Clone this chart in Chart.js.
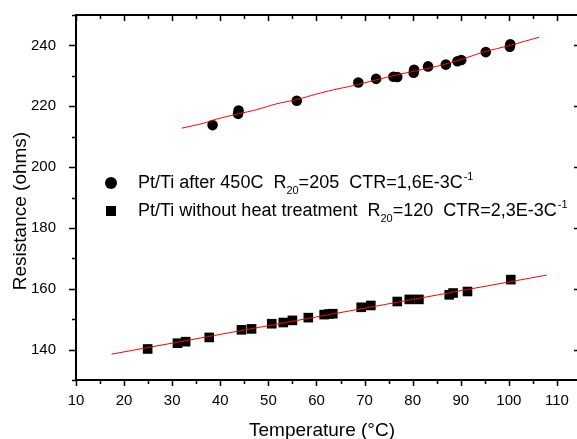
<!DOCTYPE html>
<html>
<head>
<meta charset="utf-8">
<script src="https://cdn.jsdelivr.net/npm/chart.js@4"></script>
<style>
  html, body { margin: 0; padding: 0; overflow: hidden; background: #fff; }
  #wrap { position: absolute; left: 0; top: 0; width: 590px; height: 439px; }
</style>
</head>
<body>
<div id="wrap"><canvas id="chart"></canvas></div>
<script>
// axis ticks
const xTicks = [10, 20, 30, 40, 50, 60, 70, 80, 90, 100, 110];
const xMinor = [15, 25, 35, 45, 55, 65, 75, 85, 95, 105, 115];
const yTicks = [140, 160, 180, 200, 220, 240];
const yMinor = [130, 150, 170, 190, 210, 230, 250];

// Pt/Ti without heat treatment (squares)
const squareT = [24.9, 31.1, 32.8, 37.7, 44.4, 46.5, 50.7, 53.1, 55.0, 58.3, 61.6, 62.6, 63.4, 69.3, 71.3, 76.8, 79.3, 81.3, 87.6, 88.4, 91.4, 100.4];
const squareR = [140.2, 142.1, 142.6, 144.0, 146.5, 146.8, 148.5, 148.9, 149.6, 150.5, 151.5, 151.7, 151.8, 153.9, 154.5, 155.8, 156.5, 156.5, 158.0, 158.6, 159.1, 163.0];

// Pt/Ti after 450C (circles)
const circleT = [38.4, 43.7, 43.8, 55.9, 68.7, 72.4, 76.0, 76.8, 80.2, 80.3, 83.2, 86.9, 89.3, 90.1, 95.2, 100.2, 100.3];
const circleR = [213.8, 217.5, 218.6, 221.8, 227.8, 229.0, 229.7, 229.6, 231.0, 232.0, 233.1, 233.7, 234.8, 235.2, 237.8, 239.6, 240.4];

// red fit lines
const fitSqT = [17.4, 107.9];
const fitSqR = [138.5, 164.5];
const fitCiT = [32.0, 36.5, 39.3, 43.8, 47.6, 51.7, 55.9, 60.0, 63.5, 67.7, 72.5, 76.7, 80.8, 85.0, 90.5, 94.7, 100.2, 106.3];
const fitCiR = [212.8, 214.4, 215.8, 217.5, 218.9, 220.8, 222.2, 224.0, 225.4, 226.8, 228.7, 230.3, 231.7, 233.1, 235.6, 237.8, 240.0, 242.7];

const legendLines = [
  ["Pt/Ti after 450C  R", "20", "=205  CTR=1,6E-3C", "-1"],
  ["Pt/Ti without heat treatment  R", "20", "=120  CTR=2,3E-3C", "-1"]
];

function pts(xs, ys) {
  return xs.map((x, i) => ({x: x, y: ys[i]}));
}

const frame = {
  id: 'frame',
  afterDraw(chart) {
    const ctx = chart.ctx;
    const a = chart.chartArea;
    const xs = chart.scales.x, ys = chart.scales.y;
    ctx.save();
    ctx.strokeStyle = '#000';
    ctx.lineWidth = 2;
    ctx.strokeRect(a.left, a.top, a.right - a.left, a.bottom - a.top);
    ctx.lineWidth = 1.5;
    function tickX(v, len) {
      const px = Math.round(xs.getPixelForValue(v)) + 0.5;
      ctx.beginPath();
      ctx.moveTo(px, a.bottom); ctx.lineTo(px, a.bottom + len);
      ctx.moveTo(px, a.top); ctx.lineTo(px, a.top + len);
      ctx.stroke();
    }
    function tickY(v, len) {
      const py = Math.round(ys.getPixelForValue(v)) + 0.5;
      ctx.beginPath();
      ctx.moveTo(a.left, py); ctx.lineTo(a.left - len, py);
      ctx.moveTo(a.right, py); ctx.lineTo(a.right - len, py);
      ctx.stroke();
    }
    xTicks.forEach(v => tickX(v, 6));
    xMinor.forEach(v => tickX(v, 4));
    yTicks.forEach(v => tickY(v, 7));
    yMinor.forEach(v => tickY(v, 4));

    // axis titles
    ctx.fillStyle = '#000';
    ctx.font = '19px "Liberation Sans", Arial, sans-serif';
    ctx.textAlign = 'center';
    ctx.textBaseline = 'alphabetic';
    ctx.fillText('Temperature (\u00B0C)', 322, 436);
    ctx.save();
    ctx.translate(26, 211);
    ctx.rotate(-Math.PI / 2);
    ctx.fillText('Resistance (ohms)', 0, 0);
    ctx.restore();

    // legend
    ctx.beginPath();
    ctx.arc(111, 183, 6, 0, Math.PI * 2);
    ctx.fill();
    ctx.fillRect(106, 206, 10, 10);
    ctx.textAlign = 'left';
    const bases = [188, 216];
    legendLines.forEach((parts, i) => {
      let x = 138;
      const b = bases[i];
      ctx.font = '18px "Liberation Sans", Arial, sans-serif';
      ctx.fillText(parts[0], x, b); x += ctx.measureText(parts[0]).width;
      ctx.font = '11px "Liberation Sans", Arial, sans-serif';
      ctx.fillText(parts[1], x, b + 6); x += ctx.measureText(parts[1]).width;
      ctx.font = '18px "Liberation Sans", Arial, sans-serif';
      ctx.fillText(parts[2], x, b); x += ctx.measureText(parts[2]).width + 1;
      ctx.font = '11px "Liberation Sans", Arial, sans-serif';
      ctx.fillText(parts[3], x, b - 8);
    });
    ctx.restore();
  }
};

new Chart(document.getElementById('chart'), {
  type: 'scatter',
  data: {
    datasets: [
      { label: 'fit 450C', type: 'line', data: pts(fitCiT, fitCiR), borderColor: '#ff0000', borderWidth: 1, pointRadius: 0, fill: false, tension: 0.3, order: 0 },
      { label: 'fit untreated', type: 'line', data: pts(fitSqT, fitSqR), borderColor: '#ff0000', borderWidth: 1, pointRadius: 0, fill: false, order: 0 },
      { label: 'Pt/Ti after 450C', data: pts(circleT, circleR), pointStyle: 'circle', pointRadius: 5.3, backgroundColor: '#000', borderColor: '#000', borderWidth: 0, order: 1 },
      { label: 'Pt/Ti without heat treatment', data: pts(squareT, squareR), pointStyle: 'rect', pointRadius: 6.8, backgroundColor: '#000', borderColor: '#000', borderWidth: 0, order: 1 }
    ]
  },
  options: {
    responsive: true,
    maintainAspectRatio: false,
    animation: false,
    layout: { padding: { top: 15, right: 9, left: 0, bottom: 0 } },
    plugins: { legend: { display: false }, tooltip: { enabled: false } },
    scales: {
      x: {
        type: 'linear', min: 10, max: 115,
        grid: { display: false }, border: { display: false },
        afterBuildTicks: s => { s.ticks = xTicks.map(v => ({value: v})); },
        afterFit: s => { s.height = 59; s.paddingLeft = 0; s.paddingRight = 0; },
        ticks: { autoSkip: false, maxRotation: 0, padding: 4, color: '#000', font: { family: '"Liberation Sans", Arial', size: 15 } }
      },
      y: {
        type: 'linear', min: 130, max: 250,
        grid: { display: false }, border: { display: false },
        afterBuildTicks: s => { s.ticks = yTicks.map(v => ({value: v})); },
        afterFit: s => { s.width = 76; s.paddingTop = 0; s.paddingBottom = 0; },
        ticks: { padding: 12, color: '#000', font: { family: '"Liberation Sans", Arial', size: 15 } }
      }
    }
  },
  plugins: [frame]
});
</script>
</body>
</html>
